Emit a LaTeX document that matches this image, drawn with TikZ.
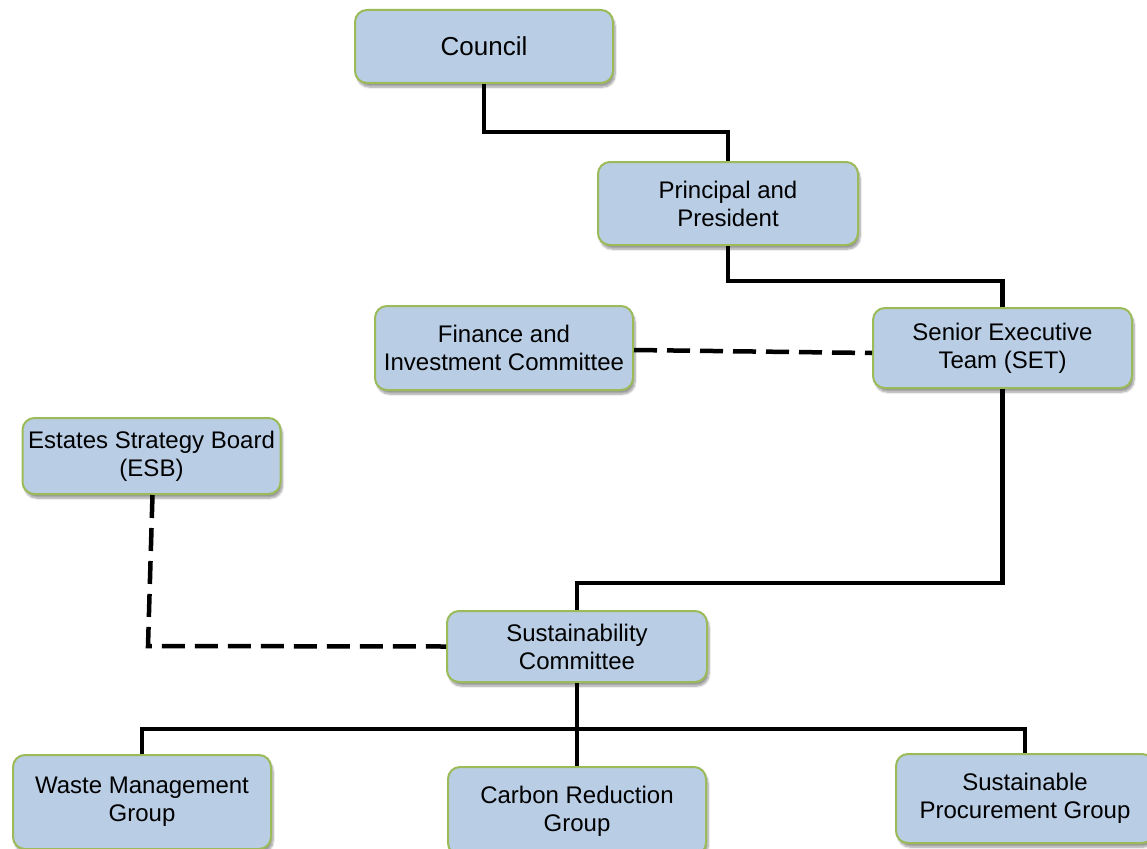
\documentclass[tikz,border=0pt]{standalone}
\usepackage{fontspec}
\setmainfont{Liberation Sans}
\usetikzlibrary{shadows.blur}
\definecolor{boxfill}{HTML}{B9CDE5}
\definecolor{boxline}{HTML}{9BBB59}
\begin{document}
\begin{tikzpicture}[x=1pt,y=-1pt,
  orgbox/.style={draw=boxline, line width=2pt, fill=boxfill, rounded corners=12pt,
    minimum width=258pt, inner sep=0pt, align=center,
    font=\fontsize{24}{28}\selectfont,
    blur shadow={shadow xshift=2pt, shadow yshift=-4pt, shadow blur steps=8, shadow opacity=40}},
  conn/.style={line width=4.5pt, line join=miter},
  dconn/.style={line width=4.5pt, dash pattern=on 23pt off 10pt}]
\path[use as bounding box] (0,0) rectangle (1147,848);
\clip (0,0) rectangle (1147,848);
\node[orgbox, minimum height=73pt, font=\fontsize{26}{30}\selectfont] (council) at (484,46.5) {Council};
\node[orgbox, minimum height=83pt, minimum width=260pt] (principal) at (728,203.5) {Principal and\\President};
\node[orgbox, minimum height=84pt] (finance) at (504,348) {Finance and\\Investment Committee};
\node[orgbox, minimum height=80pt, minimum width=259pt] (set) at (1002.5,348) {Senior Executive\\Team (SET)};
\node[orgbox, minimum height=76pt] (esb) at (151.5,456) {Estates Strategy Board\\(ESB)};
\node[orgbox, minimum height=71pt, minimum width=260pt] (sust) at (577,646.5) {Sustainability\\Committee};
\node[orgbox, minimum height=94pt] (waste) at (142,802) {Waste Management\\Group};
\node[orgbox, minimum height=88pt] (carbon) at (577,811) {Carbon Reduction\\Group};
\node[orgbox, minimum height=89pt] (spg) at (1025,798.5) {Sustainable\\Procurement Group};
\draw[conn] (council.south) -- ++(0,48) -| (principal.north);
\draw[conn] (principal.south) -- ++(0,35) -| (set.north);
\draw[conn] (set.south) -- ++(0,194) -| (sust.north);
\draw[conn] (sust.south) -- (carbon.north);
\coordinate (hb) at (577,729);
\draw[conn] (waste.north) |- (hb) -| (spg.north);
\draw[dconn] ([yshift=-2pt]finance.east) -- ([yshift=-5pt]set.west);
\coordinate (ec) at (148,646);
\draw[dconn] ([xshift=1pt]esb.south) -- (ec) -- (sust.west);
\end{tikzpicture}
\end{document}
